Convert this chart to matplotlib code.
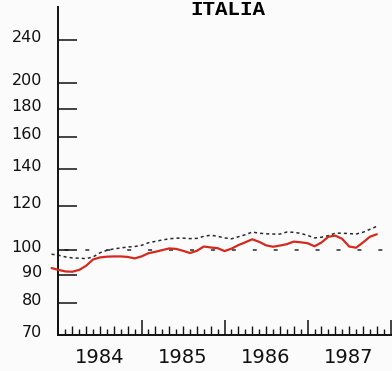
#!/usr/bin/env python
############################################################
import numpy as np
import matplotlib as mpl
import matplotlib.pyplot as plt
import matplotlib.transforms as mtransforms
from matplotlib.ticker import NullLocator

mpl.use('agg')

############################################################
# data, monthly, month 0 = Jan 1984
############################################################
months = np.arange(-1, 47)

index_red = [
    92.7, 92.0, 91.4, 91.3, 92.0, 93.6, 96.1, 96.9, 97.2, 97.3, 97.3, 97.1, 96.5,
    97.3, 98.6, 99.2, 99.9, 100.6, 100.4, 99.6, 98.7, 99.6, 101.4, 101.0, 100.7,
    99.5, 100.5, 102.0, 103.2, 104.5, 103.4, 101.9, 101.3, 101.8, 102.4, 103.5, 103.2,
    102.8, 101.5, 103.1, 105.6, 106.1, 104.7, 101.4, 100.9, 103.1, 105.6, 106.7,
]
index_dash = [
    98.2, 97.8, 97.1, 96.7, 96.6, 96.4, 97.1, 98.8, 99.8, 100.4, 100.8, 101.2, 101.4,
    101.9, 103.0, 103.6, 104.2, 104.7, 105.0, 105.0, 104.8, 104.9, 105.8, 106.3, 105.8,
    105.1, 104.7, 105.6, 106.5, 107.7, 107.2, 106.9, 106.8, 106.8, 107.7, 107.6, 107.1,
    106.2, 105.1, 105.4, 106.1, 107.2, 107.2, 107.0, 106.8, 107.6, 108.9, 110.3,
]
ref_level  = 100
ref_end    = 47
yticks     = [70, 80, 90, 100, 120, 140, 160, 180, 200, 240]
years      = ['1984', '1985', '1986', '1987']
title      = 'ITALIA'

############################################################
fig = plt.figure(figsize=(3.92, 3.71), dpi=100, facecolor='#fbfbfb')
ax  = fig.add_axes([0.1492, 0.0957, 0.8508, 0.8855])
ax.set_facecolor('none')

ax.plot(months, index_dash, color='#2a2a2a', lw=1.1,
        linestyle=(0, (2, 2)), clip_on=False, zorder=2)
ax.plot(months, index_red, color='#d42a1e', lw=1.6,
        solid_capstyle='round', clip_on=False, zorder=3)
ax.hlines(ref_level, 0, ref_end, color='#2a2a2a', lw=1.1,
          linestyle=(9.5, (2.6, 11.1)), zorder=1)

############################################################
ax.set_yscale('log')
ax.set_ylim(70, 275)
ax.set_xlim(0, 48.2)

for s in ['top', 'right']:
    ax.spines[s].set_visible(False)
for s in ['left', 'bottom']:
    ax.spines[s].set_linewidth(1.4)
    ax.spines[s].set_color('#111111')

ax.yaxis.set_minor_locator(NullLocator())
ax.set_yticks(yticks, labels=[str(v) for v in yticks])
ax.tick_params(axis='y', direction='in', length=13.7, width=1.1,
               pad=12, labelsize=11.5, colors='#111111')
off = mtransforms.ScaledTranslation(0, 4 / 100, fig.dpi_scale_trans)
for t in ax.yaxis.get_major_ticks():
    t.label1.set_transform(t.label1.get_transform() + off)

# year ticks + monthly ticks
ax.set_xticks([0, 12, 24, 36, 48], labels=[''] * 5)
ax.set_xticks([m for m in range(49) if m % 12 and m % 2], minor=True)
ax.tick_params(axis='x', which='major', direction='in', length=10.8, width=1.1,
               colors='#111111')
ax.tick_params(axis='x', which='minor', direction='in', length=4.3, width=1.0,
               colors='#111111')

sec = ax.secondary_xaxis('bottom')
sec.spines['bottom'].set_visible(False)
even = [m for m in range(49) if m % 12 and m % 2 == 0]
sec.set_xticks(even, labels=[years[m // 12] if m % 12 == 6 else '' for m in even])
sec.tick_params(axis='x', direction='in', length=6.5, width=1.0, pad=9,
                labelsize=14, colors='#111111')

fig.text(227.5 / 392, 0.999, title, ha='center', va='top',
         fontsize=15, fontweight='bold', family='Liberation Mono')

########################################
plt.savefig('out.png', dpi=100, facecolor=fig.get_facecolor())
